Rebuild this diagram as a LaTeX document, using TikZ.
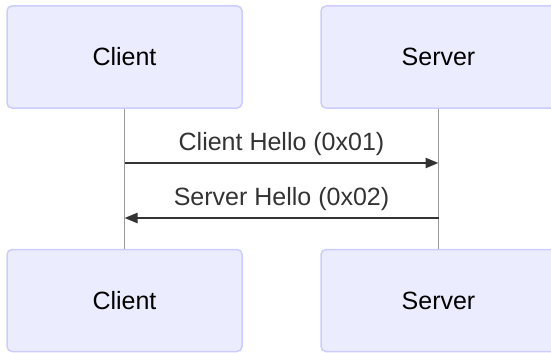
\documentclass[tikz,border=0pt]{standalone}
\usepackage{fontspec}
\setmainfont{Liberation Sans}
\usetikzlibrary{arrows.meta}
\definecolor{actfill}{HTML}{ECECFF}
\definecolor{actdraw}{HTML}{CCCCFF}
\definecolor{msg}{HTML}{333333}
\definecolor{life}{HTML}{999999}
\begin{document}
\begin{tikzpicture}[x=1pt,y=-1pt,
  actor/.style={draw=actdraw,fill=actfill,line width=1.5pt,rounded corners=5pt,
    minimum width=235pt,minimum height=102pt,inner sep=0pt,
    font=\fontsize{25}{30}\selectfont,text=black},
  lifeline/.style={draw=life,line width=1.5pt},
  message/.style={draw=msg,line width=2.4pt,-{Triangle[length=13pt,width=10pt]}},
  msglabel/.style={font=\fontsize{25}{30}\selectfont,text=msg,inner sep=0pt}]
\useasboundingbox (0,0) rectangle (551,353);
\begin{scope}
\clip (0,0) rectangle (551,353);
\node[actor] (c1) at (124.5,57) {Client};
\node[actor] (s1) at (438.5,57) {Server};
\node[actor] (c2) at (124.5,300.5) {Client};
\node[actor] (s2) at (438.5,300.5) {Server};
\end{scope}
\draw[lifeline] (c1.south) -- (c2.north);
\draw[lifeline] (s1.south) -- (s2.north);
\coordinate (m1s) at (124.5,163);
\coordinate (m1e) at (438.5,163);
\coordinate (m2s) at (438.5,218);
\coordinate (m2e) at (124.5,218);
\draw[message] (m1s) -- (m1e);
\draw[message] (m2s) -- (m2e);
\node[msglabel] (l1) at (281.5,144) {Client Hello (0x01)};
\node[msglabel] (l2) at (281.5,199) {Server Hello (0x02)};
\end{tikzpicture}
\end{document}
